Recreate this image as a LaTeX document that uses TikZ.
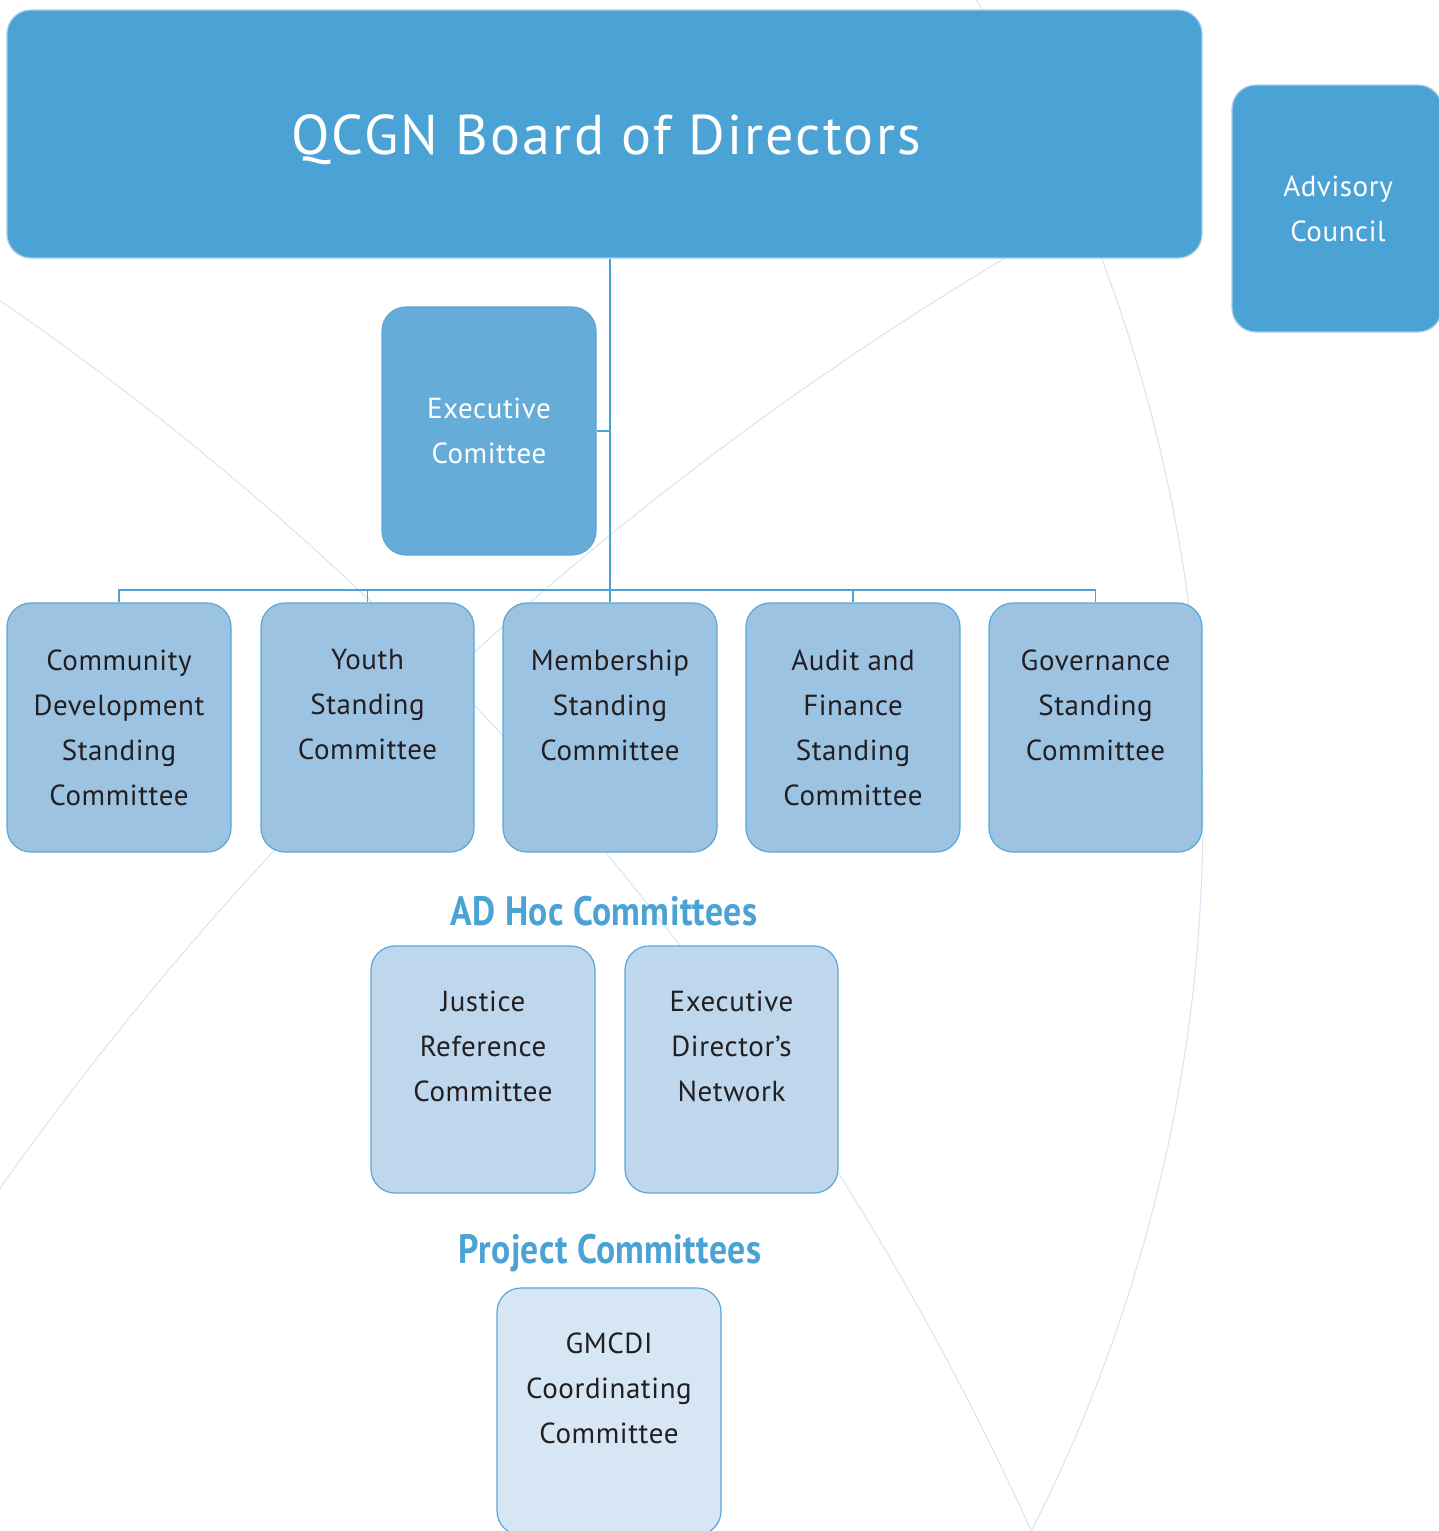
\documentclass[tikz,border=0pt]{standalone}
\usepackage{fontspec}
\setmainfont{PT Sans}
\newfontfamily\titlefont{PT Sans}[LetterSpace=4]
\newfontfamily\boxfont{PT Sans}[LetterSpace=2]
\newfontfamily\headfont{PT Sans}[FakeStretch=0.87, LetterSpace=1]
\definecolor{cBoard}{HTML}{4BA3D5}
\definecolor{cExec}{HTML}{66ACD8}
\definecolor{cRow}{HTML}{9DC3E3}
\definecolor{cAdhoc}{HTML}{BED7EC}
\definecolor{cProj}{HTML}{D6E6F4}
\definecolor{cEdge}{HTML}{5AA7D8}
\definecolor{cLight}{HTML}{A8CDEA}
\definecolor{cBg}{HTML}{D5E5F4}
\definecolor{cText}{HTML}{231F20}
\tikzset{
  boxbase/.style={rounded corners=24pt, line width=1.2pt, inner sep=0pt},
  topbox/.style={boxbase, fill=cBoard, draw=cLight},
  execbox/.style={boxbase, fill=cExec, draw=cEdge, minimum width=214pt, minimum height=248pt},
  rowbox/.style={boxbase, fill=cRow, draw=cEdge, minimum height=249pt},
  adhocbox/.style={boxbase, fill=cAdhoc, draw=cEdge, minimum height=247pt},
  projbox/.style={boxbase, fill=cProj, draw=cEdge, minimum height=247pt},
  darktext/.style={text=cText, align=center, font=\boxfont\fontsize{29}{45}\selectfont},
  whitetext/.style={text=white, align=center, font=\boxfont\fontsize{29}{45}\selectfont},
  headtext/.style={text=cBoard, font=\headfont\bfseries\fontsize{41}{44}\selectfont},
  conn/.style={draw=cBoard, line width=1.5pt},
  bgline/.style={draw=cBg, line width=1pt}
}
\begin{document}
\begin{tikzpicture}[x=1pt, y=-1pt]
\useasboundingbox (0,0) rectangle (1439,1531);
\fill[white] (0,0) rectangle (1439,1531);
% background curves
\begin{scope}
\clip (0,0) rectangle (1439,1531);
\draw[bgline] plot[domain=-32:26.9, samples=120, smooth, variable=\t] ({-377+1580*cos(\t)},{815+1580*sin(\t)});
\draw[bgline] plot[domain=-57:-24.4, samples=120, smooth, variable=\t] ({-1694+2993*cos(\t)},{2768+2993*sin(\t)});
\draw[bgline] plot[domain=-146:-119, samples=120, smooth, variable=\t] ({2707+3317*cos(\t)},{3105+3317*sin(\t)});
\end{scope}
% boxes
\node[topbox, minimum width=1195pt, minimum height=248pt] (board) at (604.5,134) {};
\node[text=white, font=\titlefont\fontsize{56}{66}\selectfont] (boardtxt) at (606,140) {QCGN Board of Directors};
\node[topbox, minimum width=210pt, minimum height=247pt] (adv) at (1337,208.5) {};
\node[whitetext] (advtxt) at (1338,208.5) {Advisory\\Council};
\node[execbox] (exec) at (489,431) {};
\node[whitetext] (exectxt) at (489,430.5) {Executive\\Comittee};
% standing committees
\node[rowbox, minimum width=224pt] (cd) at (119,727.5) {};
\node[rowbox, minimum width=213pt] (youth) at (367.5,727.5) {};
\node[rowbox, minimum width=214pt] (mem) at (610,727.5) {};
\node[rowbox, minimum width=214pt] (audit) at (853,727.5) {};
\node[rowbox, minimum width=213pt] (gov) at (1095.5,727.5) {};
\node[darktext] (cdtxt) at (119,727.5) {Community\\Development\\Standing\\Committee};
\node[darktext] (youthtxt) at (367.5,705) {Youth\\Standing\\Committee};
\node[darktext] (memtxt) at (610,705) {Membership\\Standing\\Committee};
\node[darktext] (audittxt) at (853,727.5) {Audit and\\Finance\\Standing\\Committee};
\node[darktext] (govtxt) at (1095.5,705) {Governance\\Standing\\Committee};
% ad hoc
\node[headtext] (adhoc) at (604,911) {AD Hoc Committees};
\node[adhocbox, minimum width=224pt] (just) at (483,1069.5) {};
\node[adhocbox, minimum width=213pt] (edn) at (731.5,1069.5) {};
\node[darktext] (justtxt) at (483,1046.5) {Justice\\Reference\\Committee};
\node[darktext] (edntxt) at (731.5,1046.5) {Executive\\Director’s\\Network};
% project
\node[headtext] (proj) at (610,1253) {Project Committees};
\node[projbox, minimum width=224pt] (gmcdi) at (609,1411.5) {};
\node[darktext] (gmcditxt) at (609,1388.5) {GMCDI\\Coordinating\\Committee};
% connectors
\coordinate (bus) at (0,590);
\draw[conn] (mem.north |- board.south) -- (mem.north);
\draw[conn] (cd.north) |- (gov.north |- bus) -- (gov.north);
\draw[conn] (youth.north) -- (youth.north |- bus);
\draw[conn] (audit.north) -- (audit.north |- bus);
\draw[conn] (exec.east) -- (exec.east -| mem.north);
\end{tikzpicture}
\end{document}
